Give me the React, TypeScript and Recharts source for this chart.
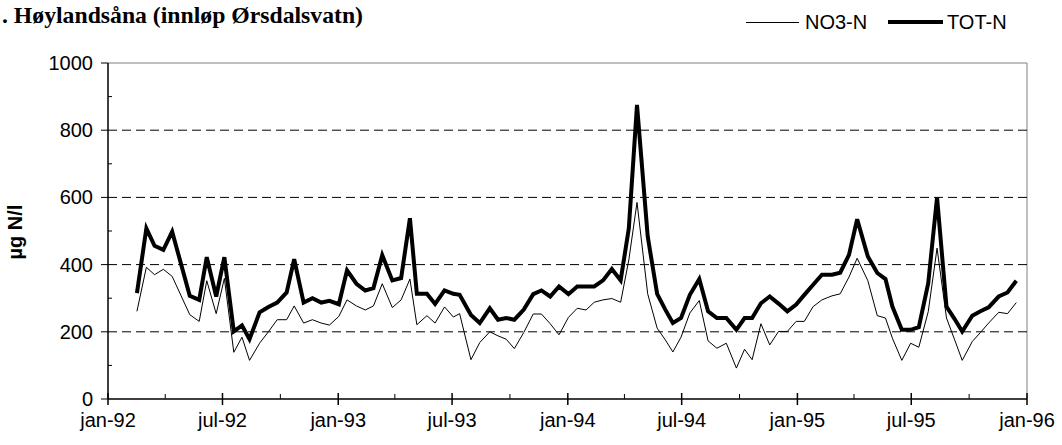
import React from 'react';
import { LineChart, Line, XAxis, YAxis, ReferenceLine } from 'recharts';

// Sampling day, counted in days from 1 Jan 1992
const sampleDays = [
  46, 61, 74, 88, 102, 130, 145, 157, 172, 185, 200, 213, 225, 241, 255, 269, 284, 296, 311, 325,
  339, 352, 367, 380, 395, 409, 422, 436, 452, 466, 480, 491, 507, 520, 535, 549, 559, 577, 591, 607,
  620, 633, 646, 661, 676, 689, 703, 717, 732, 746, 760, 773, 787, 801, 815, 828, 841, 858, 873, 886,
  898, 911, 925, 940, 954, 968, 983, 999, 1012, 1024, 1038, 1052, 1066, 1080, 1094, 1107, 1121, 1135, 1151, 1164,
  1178, 1191, 1208, 1223, 1236, 1247, 1262, 1276, 1289, 1304, 1318, 1333, 1346, 1358, 1374, 1387, 1400, 1416, 1430, 1444,
];

const no3N = [
  261, 392, 370, 386, 365, 251, 231, 352, 254, 359, 139, 184, 115, 166, 200, 236, 236, 277, 226, 236,
  226, 220, 246, 295, 277, 265, 277, 343, 272, 295, 357, 221, 248, 226, 274, 244, 254, 117, 168, 200,
  188, 178, 150, 198, 253, 253, 224, 191, 243, 270, 265, 288, 295, 299, 288, 414, 585, 313, 211, 176,
  140, 184, 256, 293, 173, 151, 166, 92, 148, 117, 224, 161, 201, 201, 231, 231, 275, 295, 307, 313,
  363, 419, 352, 248, 241, 181, 115, 166, 154, 260, 449, 241, 176, 115, 171, 198, 226, 258, 254, 287,
];

const totN = [
  315, 508, 456, 444, 498, 307, 295, 422, 305, 422, 201, 219, 178, 258, 274, 287, 317, 416, 287, 300,
  287, 292, 282, 383, 343, 323, 330, 428, 353, 360, 538, 313, 313, 283, 323, 313, 310, 250, 226, 270,
  236, 241, 236, 266, 312, 323, 305, 335, 312, 335, 335, 335, 353, 387, 353, 508, 875, 484, 313, 266,
  226, 241, 310, 357, 261, 241, 241, 206, 241, 241, 285, 305, 284, 261, 281, 310, 340, 370, 370, 376,
  429, 535, 424, 375, 357, 275, 206, 206, 214, 345, 600, 275, 238, 201, 248, 261, 273, 305, 317, 352,
];

const xMajorTicks = [0, 182, 366, 547, 731, 912, 1096, 1277, 1461];
const xMajorLabels = ['jan-92', 'jul-92', 'jan-93', 'jul-93', 'jan-94', 'jul-94', 'jan-95', 'jul-95', 'jan-96'];
const xMinorTicks = [91, 274, 456, 639, 821, 1004, 1186, 1369];
const yTicks = [0, 100, 200, 300, 400, 500, 600, 700, 800, 900, 1000];
const yMajorTicks = [0, 200, 400, 600, 800, 1000];
const gridValues = [200, 400, 600, 800];

const titleText = '. Høylandsåna (innløp Ørsdalsvatn)';
const yLabel = 'µg N/l';
const seriesNames = ['NO3-N', 'TOT-N'];

const data = sampleDays.map((d, i) => ({ day: d, no3: no3N[i], tot: totN[i] }));
const allXTicks = [...xMajorTicks, ...xMinorTicks].sort((a, b) => a - b);

const SANS = 'Arial, "Liberation Sans", sans-serif';
const SERIF = '"Times New Roman", "Liberation Serif", serif';

const XTick = (props: any) => {
  const { x, y, payload } = props;
  const idx = xMajorTicks.indexOf(payload.value);
  if (idx >= 0) {
    return (
      <g>
        <line x1={x} x2={x} y1={y - 6} y2={y + 6} stroke="#000" strokeWidth={1.5} />
        <text x={x} y={y + 28} textAnchor="middle" fontFamily={SANS} fontSize={20} fill="#000">
          {xMajorLabels[idx]}
        </text>
      </g>
    );
  }
  return <line x1={x} x2={x} y1={y - 5} y2={y} stroke="#000" strokeWidth={1} />;
};

const YTick = (props: any) => {
  const { x, y, payload } = props;
  if (yMajorTicks.includes(payload.value)) {
    return (
      <g>
        <line x1={x - 7} x2={x} y1={y} y2={y} stroke="#000" strokeWidth={1} />
        <text x={x - 15} y={y + 7} textAnchor="end" fontFamily={SANS} fontSize={20} fill="#000">
          {payload.value}
        </text>
      </g>
    );
  }
  return <line x1={x} x2={x + 4} y1={y} y2={y} stroke="#000" strokeWidth={1} />;
};

export default function App() {
  return (
    <div style={{ position: 'absolute', left: 0, top: 0, width: 1062, height: 445, background: '#fff' }}>
      <LineChart width={1062} height={445} data={data} margin={{ top: 63, right: 35, bottom: 15, left: 0 }}>
        <ReferenceLine y={1000} stroke="#808080" strokeWidth={1} />
        <ReferenceLine x={1461} stroke="#808080" strokeWidth={1} />
        {gridValues.map((v) => (
          <ReferenceLine key={v} y={v} stroke="#000" strokeWidth={1} strokeDasharray="9 5" />
        ))}
        <XAxis
          type="number"
          dataKey="day"
          domain={[0, 1461]}
          ticks={allXTicks}
          interval={0}
          height={31}
          tickSize={0}
          tickMargin={0}
          tickLine={false}
          axisLine={{ stroke: '#000', strokeWidth: 1.5 }}
          tick={<XTick />}
        />
        <YAxis
          type="number"
          domain={[0, 1000]}
          ticks={yTicks}
          interval={0}
          width={108}
          tickSize={0}
          tickMargin={0}
          tickLine={false}
          axisLine={{ stroke: '#000', strokeWidth: 1.5 }}
          tick={<YTick />}
        />
        <Line type="linear" dataKey="no3" stroke="#000" strokeWidth={1} dot={false} isAnimationActive={false} />
        <Line type="linear" dataKey="tot" stroke="#000" strokeWidth={4} dot={false} isAnimationActive={false} />
        <text x={2} y={23} fontFamily={SERIF} fontWeight="bold" fontSize={23} fill="#000" textLength={361} lengthAdjust="spacingAndGlyphs">
          {titleText}
        </text>
        <text transform="translate(22,232) rotate(-90)" textAnchor="middle" fontFamily={SANS} fontWeight="bold" fontSize={20} fill="#000">
          {yLabel}
        </text>
        <line x1={746} x2={799} y1={22.5} y2={22.5} stroke="#000" strokeWidth={1} />
        <text x={805} y={28.5} fontFamily={SANS} fontSize={20} fill="#000">{seriesNames[0]}</text>
        <line x1={888} x2={943} y1={22} y2={22} stroke="#000" strokeWidth={4} />
        <text x={947} y={28.5} fontFamily={SANS} fontSize={20} fill="#000">{seriesNames[1]}</text>
      </LineChart>
    </div>
  );
}
